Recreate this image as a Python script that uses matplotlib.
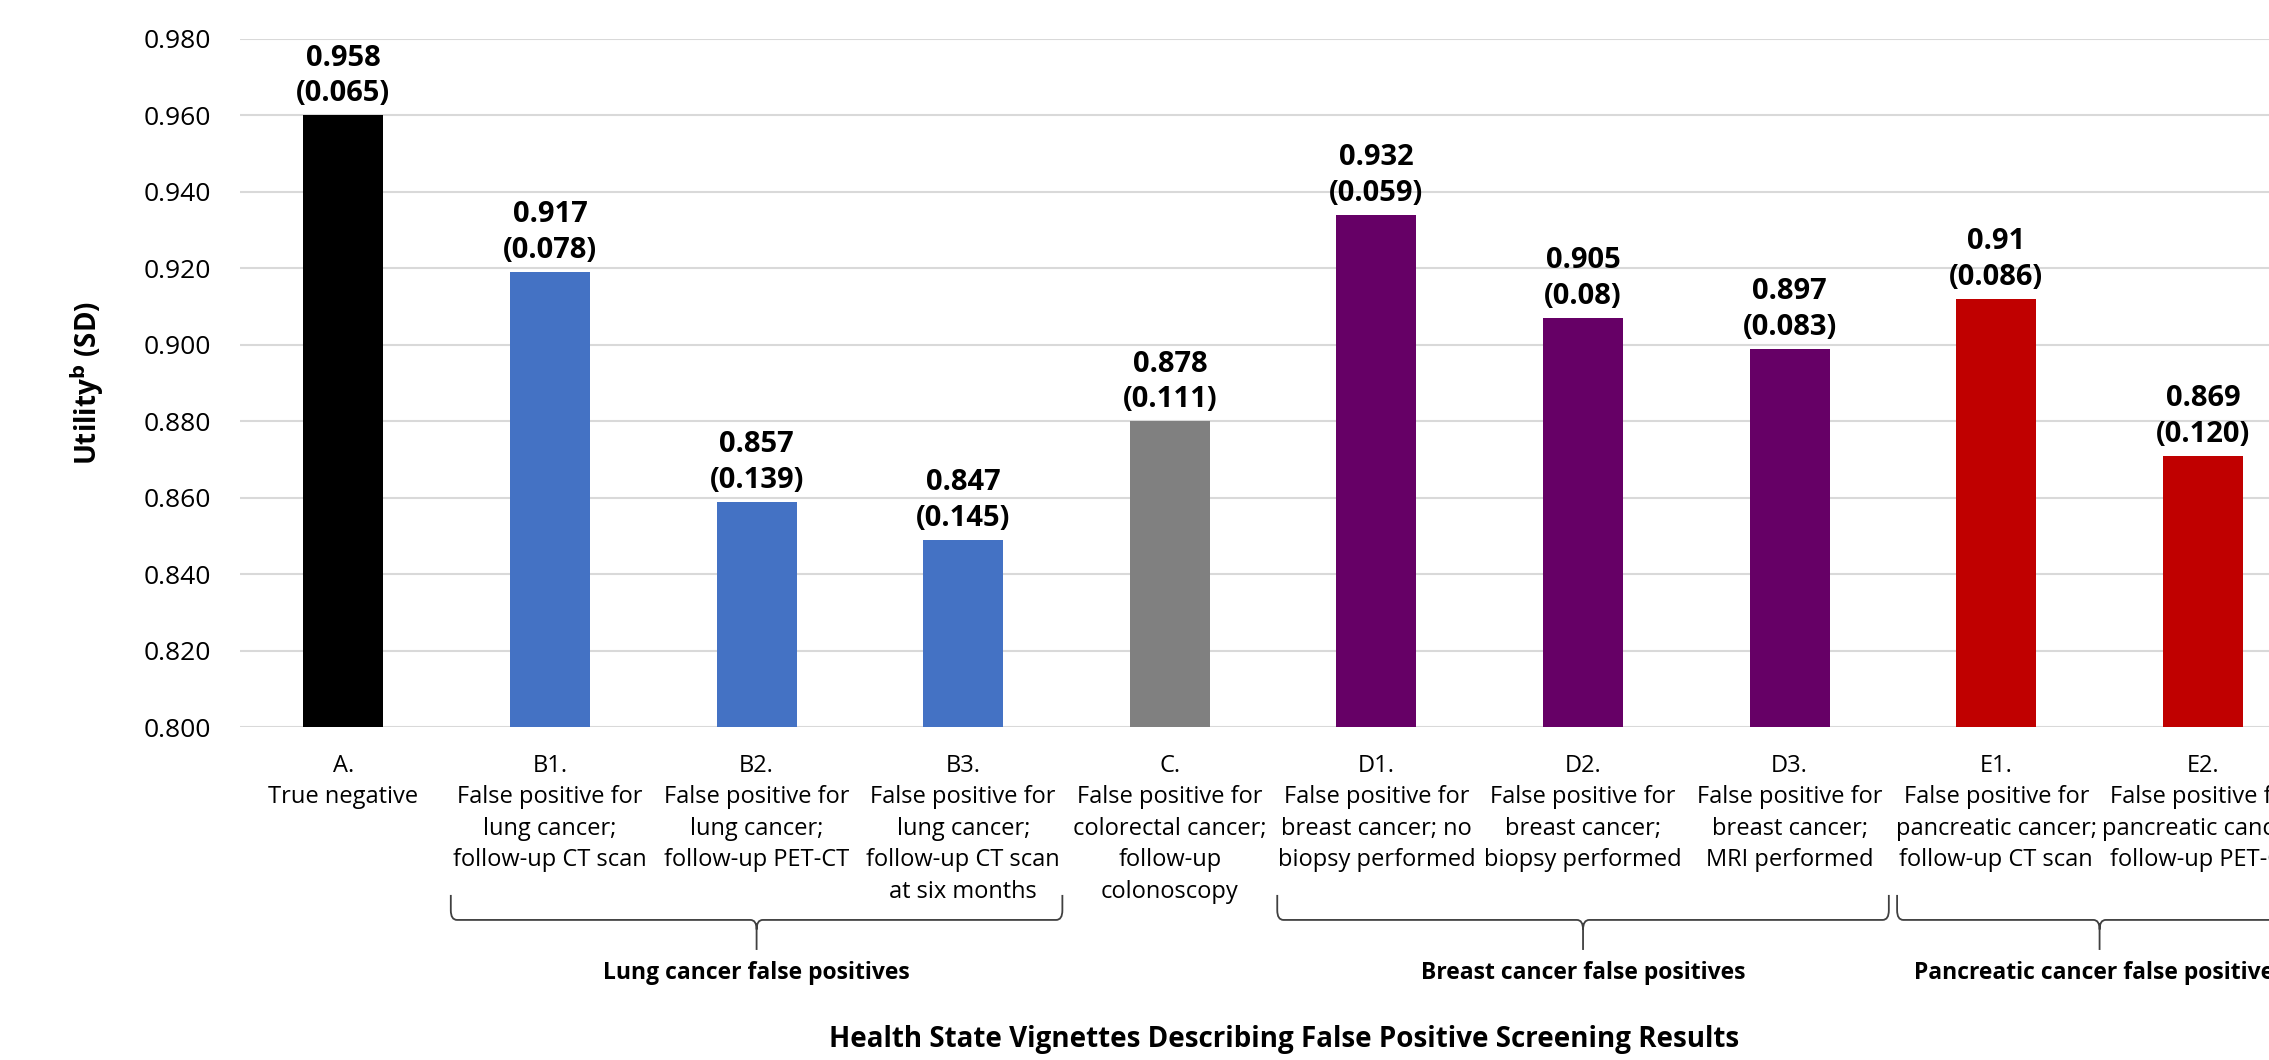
import matplotlib
matplotlib.use("Agg")
import matplotlib.pyplot as plt
import matplotlib.transforms as mtransforms
from matplotlib.path import Path
from matplotlib.patches import PathPatch

plt.rcParams['font.family'] = ['Open Sans', 'DejaVu Sans']

# bar heights as drawn, and the labels typed over them
codes = ["A.", "B1.", "B2.", "B3.", "C.", "D1.", "D2.", "D3.", "E1.", "E2."]
descriptions = [
    "True negative",
    "False positive for\nlung cancer;\nfollow-up CT scan",
    "False positive for\nlung cancer;\nfollow-up PET-CT",
    "False positive for\nlung cancer;\nfollow-up CT scan\nat six months",
    "False positive for\ncolorectal cancer;\nfollow-up\ncolonoscopy",
    "False positive for\nbreast cancer; no\nbiopsy performed",
    "False positive for\nbreast cancer;\nbiopsy performed",
    "False positive for\nbreast cancer;\nMRI performed",
    "False positive for\npancreatic cancer;\nfollow-up CT scan",
    "False positive for\npancreatic cancer;\nfollow-up PET-CT",
]
bar_values = [0.960, 0.919, 0.859, 0.849, 0.880, 0.934, 0.907, 0.899, 0.912, 0.871]
mean_labels = ["0.958", "0.917", "0.857", "0.847", "0.878", "0.932", "0.905", "0.897", "0.91", "0.869"]
sd_labels = ["0.065", "0.078", "0.139", "0.145", "0.111", "0.059", "0.08", "0.083", "0.086", "0.120"]
bar_colors = ["#000000", "#4472C4", "#4472C4", "#4472C4", "#808080",
              "#660066", "#660066", "#660066", "#C00000", "#C00000"]

# groups: (first bar, last bar, label)
group_first = [1, 5, 8]
group_last = [3, 7, 9]
group_names = ["Lung cancer false positives", "Breast cancer false positives",
               "Pancreatic cancer false positives"]

yticks = [0.800, 0.820, 0.840, 0.860, 0.880, 0.900, 0.920, 0.940, 0.960, 0.980]

fig = plt.figure(figsize=(22.69, 10.60), dpi=100)
ax = fig.add_axes([0.1058, 0.3139, 1 - 0.1058, 0.9635 - 0.3139])

x = list(range(len(codes)))
ax.bar(x, [v - 0.8 for v in bar_values], bottom=0.8, width=0.387, color=bar_colors, zorder=3)

for i in x:
    ax.annotate(f"{mean_labels[i]}\n({sd_labels[i]})", (i, bar_values[i]),
                xytext=(0, 5), textcoords="offset points", ha="center", va="bottom",
                fontsize=21, fontweight="bold", linespacing=1.3)

ax.set_ylim(0.8, 0.98)
ax.set_xlim(-0.5, 9.32)
ax.set_yticks(yticks)
ax.set_yticklabels([f"{t:.3f}" for t in yticks], fontsize=19)
ax.yaxis.grid(True, color="#D9D9D9", linewidth=1.5, zorder=0)
ax.set_axisbelow(True)
ax.set_xticks(x)
ax.set_xticklabels([c + "\n" + d for c, d in zip(codes, descriptions)],
                   fontsize=17, va="top", linespacing=1.42)
ax.tick_params(axis="x", length=0, pad=19)
ax.tick_params(axis="y", length=0, pad=21)
for s in ax.spines.values():
    s.set_visible(False)

ax.set_ylabel("Utility$^{\\mathbf{b}}$ (SD)", fontsize=20, fontweight="bold", labelpad=27)

# curly braces under the groups
trans = mtransforms.blended_transform_factory(ax.transData, ax.transAxes)
y_top, y_h, y_tip = -0.2435, -0.2798, -0.3234
dx, dy = 0.03, 0.014
for first, last, name in zip(group_first, group_last, group_names):
    x0 = first - 0.48
    x1 = last + 0.48
    xm = (first + last) / 2
    verts = [(x0, y_top), (x0, y_h + dy), (x0, y_h), (x0 + dx, y_h),
             (xm - dx, y_h), (xm, y_h), (xm, y_h - dy), (xm, y_tip),
             (xm, y_h - dy), (xm, y_h), (xm + dx, y_h),
             (x1 - dx, y_h), (x1, y_h), (x1, y_h + dy), (x1, y_top)]
    path_codes = [Path.MOVETO, Path.LINETO, Path.CURVE3, Path.CURVE3,
                  Path.LINETO, Path.CURVE3, Path.CURVE3, Path.LINETO,
                  Path.MOVETO, Path.CURVE3, Path.CURVE3,
                  Path.LINETO, Path.CURVE3, Path.CURVE3, Path.LINETO]
    brace = PathPatch(Path(verts, path_codes), transform=trans, fill=False,
                      edgecolor="#404040", linewidth=1.3, clip_on=False)
    ax.add_patch(brace)
    ax.text(xm, -0.357, name, transform=trans, ha="center", va="center",
            fontsize=16.5, fontweight="bold", clip_on=False)

fig.text(1284 / 2269, 1 - 1040 / 1060, "Health State Vignettes Describing False Positive Screening Results",
         ha="center", va="center", fontsize=20, fontweight="bold")

fig.savefig("out.png", dpi=100)
